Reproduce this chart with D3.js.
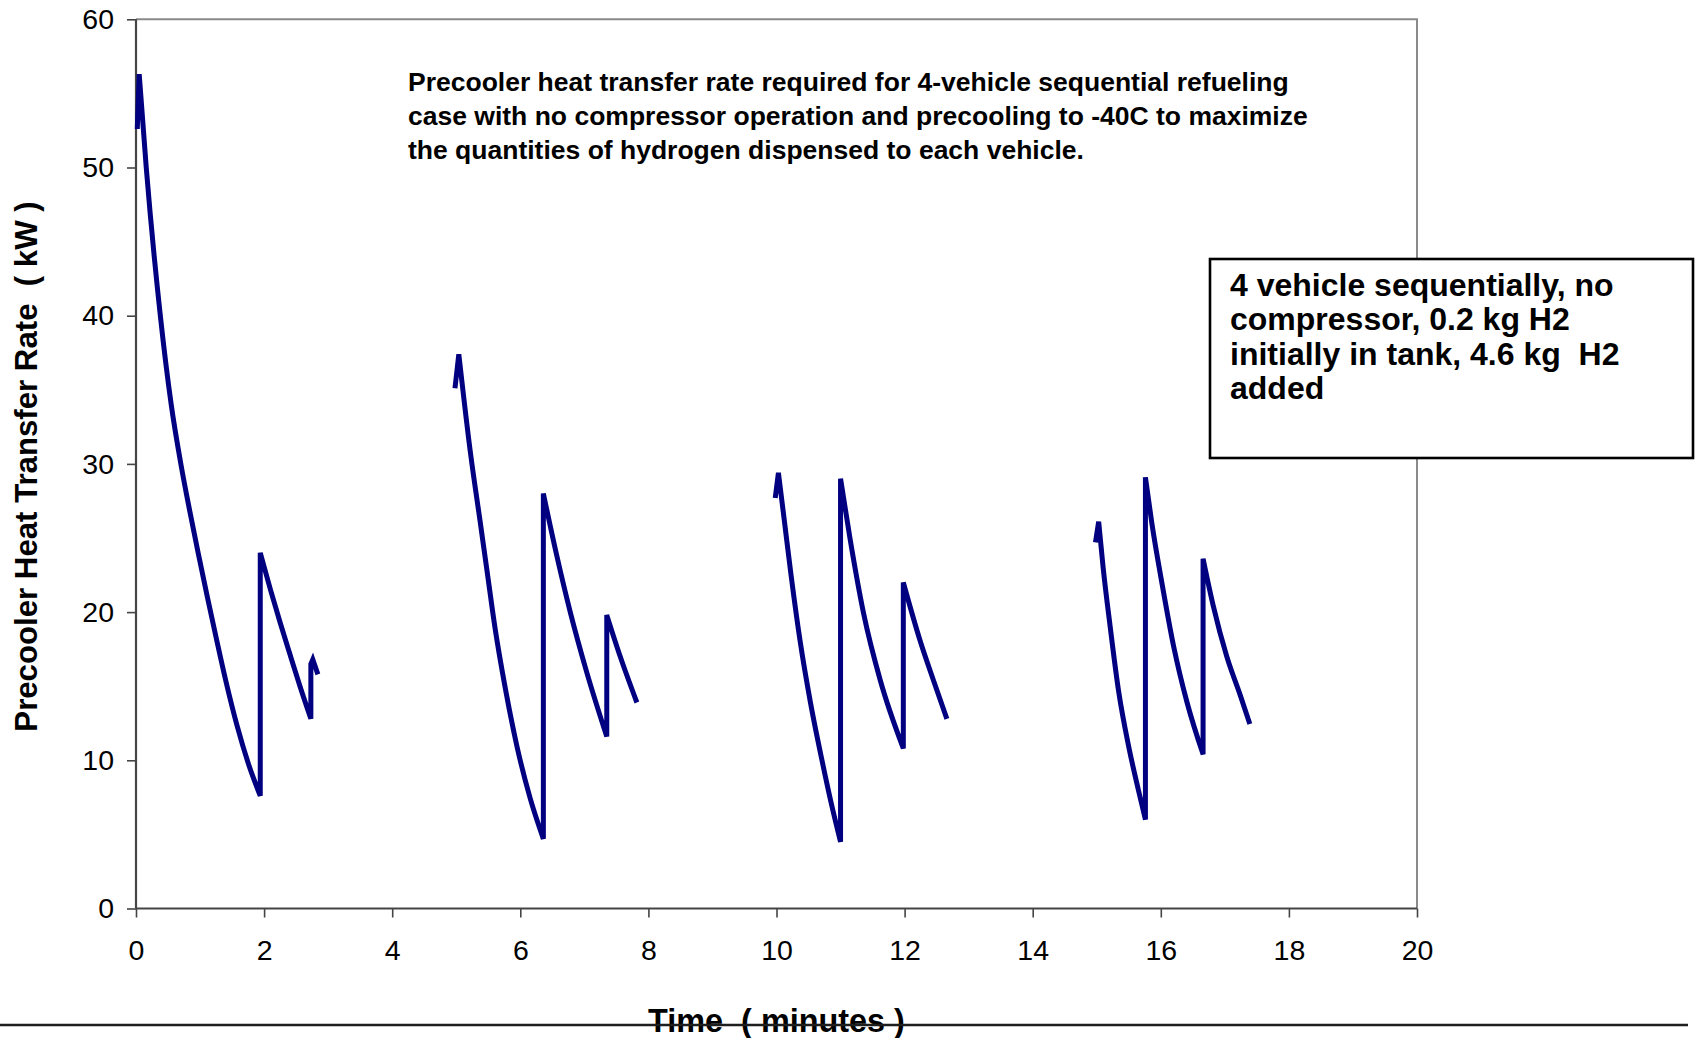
<!DOCTYPE html>
<html>
<head>
<meta charset="utf-8">
<script src="https://cdn.jsdelivr.net/npm/d3@7"></script>
<style>
  html, body { margin: 0; padding: 0; background: #fff; }
  svg { display: block; font-family: "Liberation Sans", Arial, sans-serif; }
  .tick text { font-size: 28.5px; fill: #000; }
</style>
</head>
<body>
<svg id="chart" width="1697" height="1038"></svg>
<script>
// Precooler heat transfer rate (kW) against time (minutes), one trace per vehicle.
const vehicle1Time = [0.02, 0.05, 0.16, 0.38, 0.55, 0.70, 0.84, 0.97, 1.11, 1.25, 1.40, 1.58, 1.76, 1.94, 1.94, 2.10, 2.25, 2.40, 2.56, 2.73, 2.73, 2.76, 2.84];
const vehicle1Rate = [52.6, 56.3, 50.0, 40.0, 34.0, 30.0, 26.8, 24.0, 21.1, 18.3, 15.4, 12.3, 9.7, 7.6, 24.0, 21.5, 19.3, 17.2, 15.0, 12.8, 16.5, 16.8, 15.8];

const vehicle2Time = [4.98, 5.04, 5.22, 5.37, 5.48, 5.61, 5.76, 5.95, 6.15, 6.36, 6.36, 6.57, 6.78, 7.04, 7.35, 7.35, 7.56, 7.82];
const vehicle2Rate = [35.1, 37.4, 30.8, 26.2, 22.8, 18.8, 15.0, 10.9, 7.5, 4.7, 28.0, 23.8, 20.0, 15.9, 11.6, 19.8, 17.0, 13.9];

const vehicle3Time = [9.98, 10.03, 10.13, 10.23, 10.37, 10.53, 10.71, 10.86, 11.00, 11.00, 11.15, 11.36, 11.62, 11.98, 11.98, 12.24, 12.45, 12.66];
const vehicle3Rate = [27.7, 29.4, 25.9, 22.4, 18.0, 13.9, 10.0, 7.0, 4.5, 29.0, 24.9, 19.9, 15.4, 10.8, 22.0, 18.1, 15.4, 12.8];

const vehicle4Time = [14.98, 15.03, 15.10, 15.21, 15.34, 15.50, 15.65, 15.76, 15.76, 15.86, 16.02, 16.20, 16.41, 16.66, 16.66, 16.82, 17.03, 17.24, 17.39];
const vehicle4Rate = [24.7, 26.1, 23.0, 19.0, 14.7, 10.9, 8.0, 6.0, 29.1, 26.0, 21.9, 17.7, 13.9, 10.4, 23.6, 20.4, 17.0, 14.4, 12.45];

const xTicks = [0, 2, 4, 6, 8, 10, 12, 14, 16, 18, 20];
const yTicks = [0, 10, 20, 30, 40, 50, 60];

const titleLines = [
  "Precooler heat transfer rate required for 4-vehicle sequential refueling",
  "case with no compressor operation and precooling to -40C to maximize",
  "the quantities of hydrogen dispensed to each vehicle."
];
const noteLines = [
  "4 vehicle sequentially, no",
  "compressor, 0.2 kg H2",
  "initially in tank, 4.6 kg  H2",
  "added"
];
const xLabel = "Time  ( minutes )";
const yLabel = "Precooler Heat Transfer Rate  ( kW )";

const svg = d3.select("#chart");
const plot = { left: 136, right: 1417, top: 19.3, bottom: 908.5 };

const x = d3.scaleLinear().domain([0, 20]).range([plot.left, plot.right]);
const y = d3.scaleLinear().domain([0, 60]).range([plot.bottom, plot.top]);

// plot area frame (top and right edges)
svg.append("path")
  .attr("d", `M${plot.left},${plot.top}H${plot.right}V${plot.bottom}`)
  .attr("fill", "none")
  .attr("stroke", "#8a8a8a")
  .attr("stroke-width", 2);

// axes
const yAxis = svg.append("g")
  .attr("transform", `translate(${plot.left},0)`)
  .call(d3.axisLeft(y).tickValues(yTicks).tickSize(9).tickPadding(13).tickFormat(d3.format("d")));
const xAxis = svg.append("g")
  .attr("transform", `translate(0,${plot.bottom})`)
  .call(d3.axisBottom(x).tickValues(xTicks).tickSize(9).tickPadding(22).tickFormat(d3.format("d")));

[yAxis, xAxis].forEach(g => {
  g.select(".domain").attr("stroke", "#454545").attr("stroke-width", 2.2);
  g.selectAll(".tick line").attr("stroke", "#454545").attr("stroke-width", 1.6);
  g.selectAll(".tick text").attr("font-family", "Liberation Sans, Arial, sans-serif");
});
yAxis.selectAll(".domain").attr("d", `M0,${plot.top}V${plot.bottom}`);
xAxis.selectAll(".domain").attr("d", `M${plot.left},0H${plot.right}`);

// traces: each falling stretch is drawn as a smooth run, the refill jumps as straight verticals
const smooth = d3.line().x(d => x(d[0])).y(d => y(d[1])).curve(d3.curveMonotoneX);
function tracePath(pts) {
  const pieces = [];
  let cur = [pts[0]];
  for (let i = 1; i < pts.length; i++) {
    const p = pts[i], q = pts[i - 1];
    const vertical = p[0] === q[0];
    const peak = i >= 2 && q[1] > pts[i - 2][1] && p[1] < q[1] && cur.length > 1;
    if (vertical) { pieces.push(cur); cur = [p]; }
    else if (peak) { pieces.push(cur); cur = [q, p]; }
    else cur.push(p);
  }
  pieces.push(cur);
  return pieces.map((pc, k) => {
    const s = smooth(pc).replace(/Z/g, "");
    return k ? "L" + s.slice(1) : s;
  }).join("");
}

const traces = [
  [vehicle1Time, vehicle1Rate],
  [vehicle2Time, vehicle2Rate],
  [vehicle3Time, vehicle3Rate],
  [vehicle4Time, vehicle4Rate]
];
svg.append("g").selectAll("path")
  .data(traces.map(([t, r]) => t.map((v, i) => [v, r[i]])))
  .join("path")
  .attr("d", tracePath)
  .attr("fill", "none")
  .attr("stroke", "#000080")
  .attr("stroke-width", 5);

// chart title text inside the plot
svg.append("text")
  .attr("font-size", 26.5)
  .attr("font-weight", "bold")
  .attr("fill", "#000")
  .selectAll("tspan")
  .data(titleLines)
  .join("tspan")
  .attr("x", 408)
  .attr("y", (d, i) => 90.8 + i * 34)
  .text(d => d);

// annotation box
svg.append("rect")
  .attr("x", 1210).attr("y", 259)
  .attr("width", 483).attr("height", 199)
  .attr("fill", "#fff")
  .attr("stroke", "#000")
  .attr("stroke-width", 2.6);
svg.append("text")
  .attr("font-size", 32)
  .attr("font-weight", "bold")
  .attr("fill", "#000")
  .style("white-space", "pre")
  .selectAll("tspan")
  .data(noteLines)
  .join("tspan")
  .attr("x", 1230)
  .attr("y", (d, i) => 295.5 + i * 34.6)
  .text(d => d);

// axis titles
svg.append("text")
  .attr("transform", "translate(37,466.5) rotate(-90)")
  .attr("text-anchor", "middle")
  .attr("font-size", 31.2)
  .attr("font-weight", "bold")
  .style("white-space", "pre")
  .text(yLabel);

svg.append("text")
  .attr("x", (plot.left + plot.right) / 2)
  .attr("y", 1031.5)
  .attr("text-anchor", "middle")
  .attr("font-size", 32.4)
  .attr("font-weight", "bold")
  .style("white-space", "pre")
  .text(xLabel);

// rule across the foot of the chart
svg.append("line")
  .attr("x1", 0).attr("x2", 1688)
  .attr("y1", 1025).attr("y2", 1025)
  .attr("stroke", "#1e1e1e")
  .attr("stroke-width", 2.4);
</script>
</body>
</html>
